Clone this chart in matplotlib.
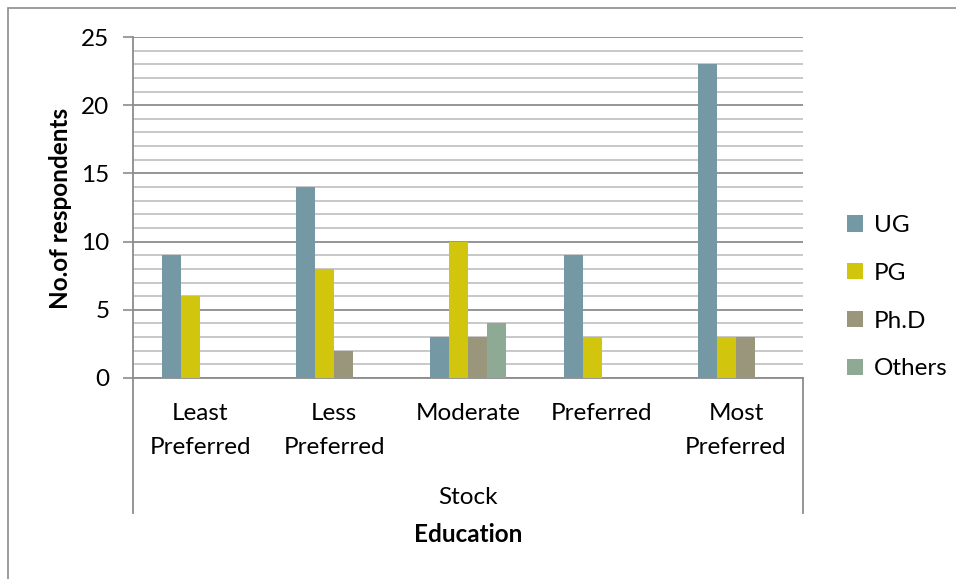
import matplotlib.pyplot as plt
import matplotlib.lines as mlines
import matplotlib.patches as mpatches
import numpy as np

# ===== DADOS =====
categorias = ["Least\nPreferred", "Less\nPreferred", "Moderate", "Preferred", "Most\nPreferred"]
series = ["UG", "PG", "Ph.D", "Others"]
ug = [9, 14, 3, 9, 23]
pg = [6, 8, 10, 3, 3]
phd = [0, 2, 3, 0, 3]
others = [0, 0, 4, 0, 0]
cores = ["#7499A5", "#D1C60D", "#9A967C", "#8FAA94"]

plt.rcParams["font.family"] = ["Lato", "DejaVu Sans"]
FS = 17.5

W, H = 956, 579
fig = plt.figure(figsize=(W / 100, H / 100), dpi=100)
x0, x1, y0, y1 = 133, 803, 378, 37
ax = fig.add_axes([x0 / W, 1 - y0 / H, (x1 - x0) / W, (y0 - y1) / H])

# moldura externa do gráfico
fig.add_artist(mpatches.Rectangle((8 / W, -0.01), 1.0, 1 - 8 / H + 0.01,
                                  transform=fig.transFigure, fill=False,
                                  edgecolor="#8c8c8c", lw=1.2))

x = np.arange(len(categorias))
largura = 0.1425
valores = [ug, pg, phd, others]
for i, (nome, v, c) in enumerate(zip(series, valores, cores)):
    ax.bar(x + (i - 1.5) * largura, v, largura, color=c, label=nome, zorder=3)

ax.set_xlim(-0.5, 4.5)
ax.set_ylim(0, 25)
ax.set_yticks(range(0, 26, 5))
ax.set_yticks(range(0, 26), minor=True)
ax.grid(axis="y", which="minor", color="#c4c4c4", lw=1.3, zorder=0)
ax.grid(axis="y", which="major", color="#8c8c8c", lw=1.3, zorder=1)
ax.tick_params(axis="y", which="major", length=7, width=1.2, color="#8c8c8c",
               labelsize=FS, pad=10)
ax.tick_params(axis="y", which="minor", length=0)
ax.tick_params(axis="x", length=0, labelsize=FS, pad=18)
ax.set_xticks(x)
ax.set_xticklabels(categorias, linespacing=1.75)
for s in ["top", "right"]:
    ax.spines[s].set_visible(False)
for s in ["left", "bottom"]:
    ax.spines[s].set_color("#8c8c8c")
    ax.spines[s].set_linewidth(1.3)

# eixo de categorias em dois níveis
for xp in (x0, x1):
    fig.add_artist(mlines.Line2D([xp / W, xp / W], [1 - y0 / H, 1 - 513 / H],
                                 color="#8c8c8c", lw=1.3))
fig.text((x0 + x1) / 2 / W, 1 - 497 / H, "Stock", ha="center", va="center", fontsize=FS)
fig.text((x0 + x1) / 2 / W, 1 - 535 / H, "Education", ha="center", va="center",
         fontsize=FS, fontweight="bold")
fig.text(60 / W, 1 - 208 / H, "No.of respondents", rotation=90, ha="center",
         va="center", fontsize=FS, fontweight="bold")

ax.legend(loc="center left", bbox_to_anchor=(1.033, 0.237), frameon=False,
          fontsize=FS, handlelength=0.65, handleheight=0.65, handletextpad=0.45,
          labelspacing=1.1)

fig.savefig("out.png", dpi=100)
